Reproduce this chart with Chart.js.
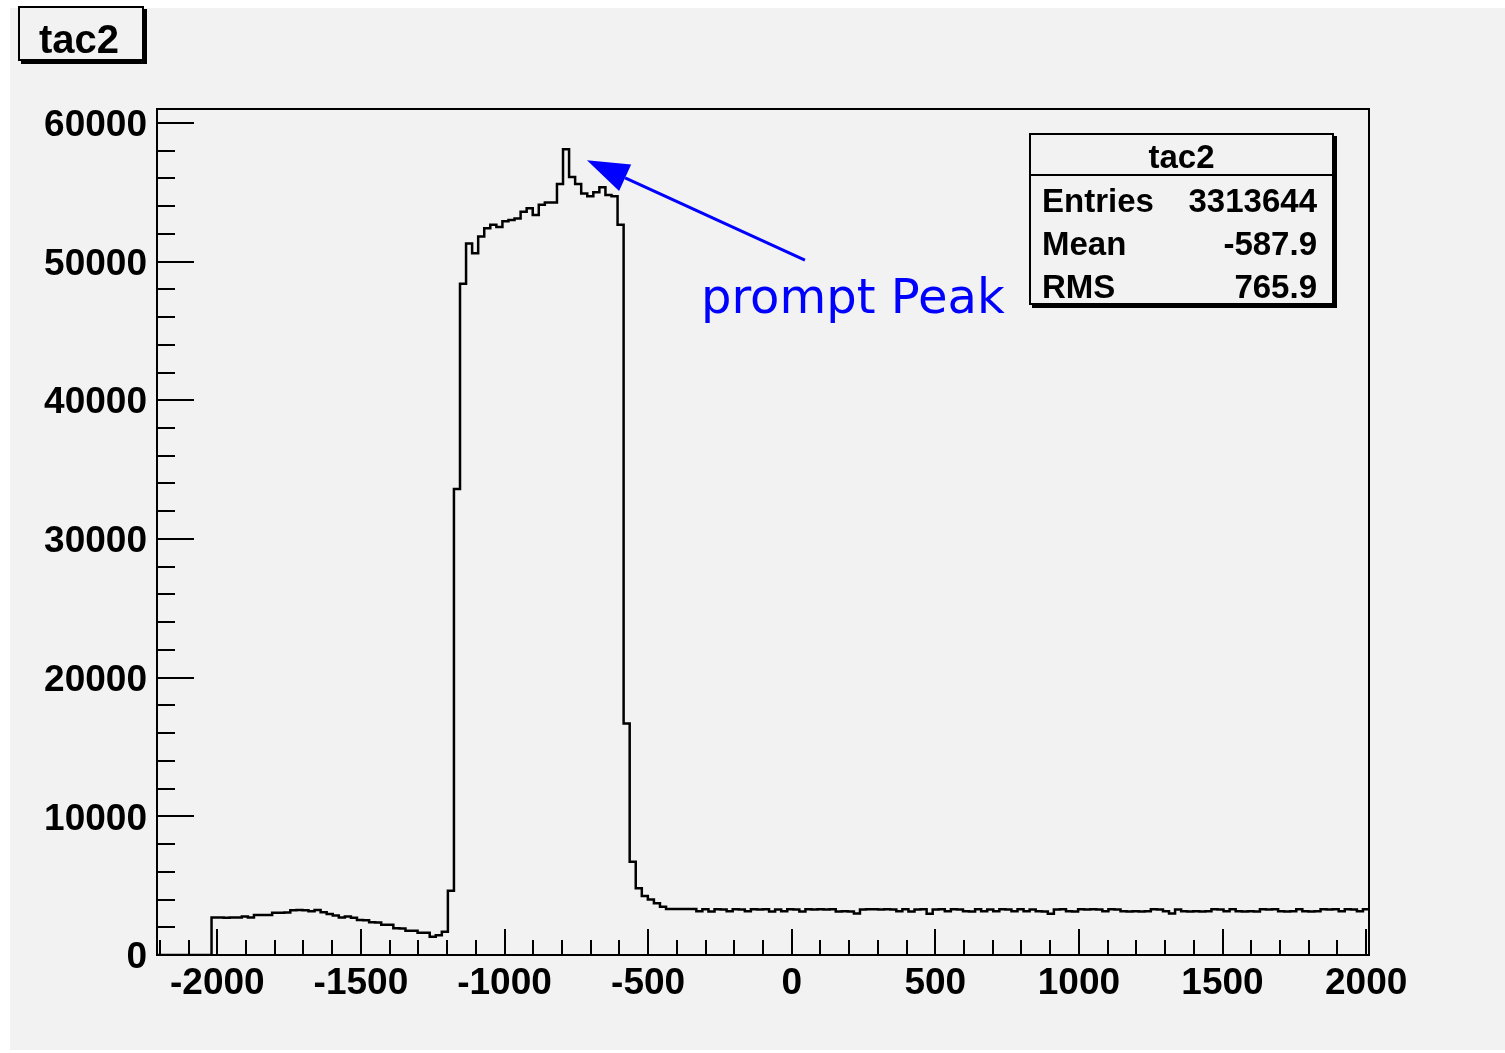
<!DOCTYPE html>
<html lang="en">
  <head>
    <meta charset="UTF-8" />
    <title>tac2</title>
    <script src="https://cdn.jsdelivr.net/npm/chart.js"></script>
    <style>
      body {
        margin: 0;
        background: #fff;
        font-family: "Liberation Sans", Arial, sans-serif;
      }
      .pad {
        position: absolute;
        left: 10px;
        top: 8px;
        width: 1495px;
        height: 1042px;
        background: #f2f2f2;
      }
      #hist {
        position: absolute;
        left: 0;
        top: 0;
      }
      .title-box {
        position: absolute;
        left: 18px;
        top: 6px;
        width: 126px;
        height: 55px;
        box-sizing: border-box;
        border: 2px solid #000;
        background: #f2f2f2;
        box-shadow: 3px 3px 0 #000;
        font-weight: bold;
        font-size: 40px;
        line-height: 62px;
        text-align: center;
        padding-right: 4px;
      }
      .stats {
        position: absolute;
        left: 1029px;
        top: 133px;
        width: 305px;
        height: 172px;
        box-sizing: border-box;
        border: 2px solid #000;
        background: #f2f2f2;
        box-shadow: 3px 3px 0 #000;
        font-weight: bold;
        font-size: 33px;
      }
      .stats .head {
        height: 39px;
        line-height: 44px;
        text-align: center;
        border-bottom: 2px solid #000;
      }
      .stats .row {
        display: flex;
        justify-content: space-between;
        height: 43px;
        line-height: 43px;
        padding: 0 15px 0 11px;
      }
      .stats .head + .row {
        margin-top: 3px;
      }
    </style>
  </head>
  <body>
    <div class="pad"></div>
    <canvas id="hist" width="1505" height="1053"></canvas>

    <div class="title-box">tac2</div>

    <!-- statistics box -->
    <div class="stats">
      <div class="head">tac2</div>
      <div class="row"><span>Entries</span><span>3313644</span></div>
      <div class="row"><span>Mean</span><span>-587.9</span></div>
      <div class="row"><span>RMS</span><span>765.9</span></div>
    </div>

    <script>
      // histogram binning
      const binLow = -2210;
      const binWidth = 21.1;
      const counts = [
        0, 0, 0, 0, 0, 0, 0, 0, 0, 2700,
        2700, 2690, 2710, 2700, 2780, 2710, 2880, 2880, 2890, 3050,
        3040, 3060, 3230, 3240, 3230, 3150, 3240, 3080, 2960, 2850,
        2700, 2780, 2690, 2520, 2510, 2360, 2350, 2190, 2180, 1920,
        1910, 1750, 1740, 1610, 1600, 1320, 1430, 1680, 4640, 33600,
        48400, 51300, 50600, 51800, 52400, 52650, 52500, 52900, 53000, 53100,
        53600, 53850, 53350, 54100, 54250, 54250, 55600, 58100, 56100, 55600,
        54900, 54700, 55000, 55350, 54800, 54700, 52650, 16700, 6730, 4810,
        4250, 4010, 3730, 3480, 3320, 3310, 3320, 3310, 3320, 3150,
        3290, 3140, 3290, 3280, 3150, 3290, 3280, 3150, 3290, 3280,
        3290, 3140, 3280, 3150, 3290, 3280, 3140, 3290, 3280, 3290,
        3280, 3290, 3140, 3150, 3140, 2990, 3280, 3290, 3290, 3280,
        3290, 3280, 3150, 3290, 3140, 3280, 3290, 2980, 3280, 3290,
        3150, 3290, 3280, 3150, 3140, 3290, 3150, 3280, 3150, 3290,
        3280, 3150, 3290, 3150, 3280, 3150, 3140, 2980, 3280, 3290,
        3150, 3140, 3290, 3280, 3290, 3280, 3150, 3290, 3280, 3150,
        3140, 3150, 3140, 3150, 3290, 3280, 3150, 2990, 3280, 3150,
        3140, 3150, 3140, 3150, 3290, 3280, 3150, 3290, 3150, 3140,
        3150, 3140, 3290, 3280, 3290, 3150, 3140, 3150, 3290, 3150,
        3140, 3150, 3290, 3280, 3290, 3150, 3290, 3280, 3150, 3290,
      ];

      // axis ranges and labelled ticks
      const xMin = -2210;
      const xMax = 2010;
      const yMin = 0;
      const yMax = 61000;
      const xTicks = [-2000, -1500, -1000, -500, 0, 500, 1000, 1500, 2000];
      const yTicks = [0, 10000, 20000, 30000, 40000, 50000, 60000];

      // "prompt Peak" annotation, in data units
      const peakLabel = "prompt Peak";
      const arrowTip = { x: -713, y: 57300 };
      const arrowTail = { x: 46, y: 50100 };
      const labelAt = { x: -316, y: 46300 };

      // each bin is drawn from its low edge to the next; the last edge closes the final bin
      const points = counts.map((c, i) => ({ x: binLow + i * binWidth, y: c }));
      points.push({ x: binLow + counts.length * binWidth, y: counts[counts.length - 1] });

      const axisFont = { family: "'Liberation Sans', Arial, sans-serif", size: 37, weight: "bold" };

      // frame, inward ticks and the arrow annotation
      const rootFrame = {
        id: "rootFrame",
        afterDatasetsDraw(chart) {
          const { ctx, chartArea: a, scales } = chart;
          const x = scales.x;
          const y = scales.y;
          ctx.save();
          ctx.strokeStyle = "#000";
          ctx.lineWidth = 2;
          ctx.strokeRect(a.left, a.top, a.right - a.left, a.bottom - a.top);

          ctx.beginPath();
          for (let v = Math.ceil(xMin / 100) * 100; v <= xMax; v += 100) {
            const px = Math.round(x.getPixelForValue(v));
            const len = v % 500 === 0 ? 26 : 15;
            ctx.moveTo(px, a.bottom);
            ctx.lineTo(px, a.bottom - len);
          }
          for (let v = yMin; v <= yMax; v += 2000) {
            const py = Math.round(y.getPixelForValue(v));
            const len = v % 10000 === 0 ? 37 : 18;
            ctx.moveTo(a.left, py);
            ctx.lineTo(a.left + len, py);
          }
          ctx.stroke();

          // arrow
          const tx = x.getPixelForValue(arrowTip.x);
          const ty = y.getPixelForValue(arrowTip.y);
          const sx = x.getPixelForValue(arrowTail.x);
          const sy = y.getPixelForValue(arrowTail.y);
          const d = Math.hypot(tx - sx, ty - sy);
          const ux = (tx - sx) / d;
          const uy = (ty - sy) / d;
          const headLen = 42;
          const headHalf = 14.5;
          const bx = tx - ux * headLen;
          const by = ty - uy * headLen;
          ctx.strokeStyle = "#0000ff";
          ctx.fillStyle = "#0000ff";
          ctx.lineWidth = 3;
          ctx.beginPath();
          ctx.moveTo(sx, sy);
          ctx.lineTo(bx, by);
          ctx.stroke();
          ctx.beginPath();
          ctx.moveTo(tx, ty);
          ctx.lineTo(bx - uy * headHalf, by + ux * headHalf);
          ctx.lineTo(bx + uy * headHalf, by - ux * headHalf);
          ctx.closePath();
          ctx.fill();

          ctx.font = "48px 'DejaVu Sans'";
          ctx.textBaseline = "alphabetic";
          ctx.textAlign = "left";
          ctx.fillText(peakLabel, x.getPixelForValue(labelAt.x), y.getPixelForValue(labelAt.y));
          ctx.restore();
        },
      };

      new Chart(document.getElementById("hist"), {
        type: "line",
        data: {
          datasets: [
            {
              data: points,
              borderColor: "#000",
              borderWidth: 2.5,
              stepped: "before",
              pointRadius: 0,
              fill: false,
            },
          ],
        },
        options: {
          responsive: false,
          animation: false,
          layout: { padding: { top: 109, right: 136, left: 0, bottom: 0 } },
          plugins: { legend: { display: false }, tooltip: { enabled: false } },
          scales: {
            x: {
              type: "linear",
              min: xMin,
              max: xMax,
              grid: { display: false, drawTicks: false },
              border: { display: false },
              afterBuildTicks: (s) => {
                s.ticks = xTicks.map((v) => ({ value: v }));
              },
              afterFit: (s) => {
                s.height = 98;
              },
              ticks: {
                padding: 7,
                color: "#000",
                font: axisFont,
                maxRotation: 0,
                autoSkip: false,
                callback: (v) => String(v),
              },
            },
            y: {
              min: yMin,
              max: yMax,
              grid: { display: false, drawTicks: false },
              border: { display: false },
              afterBuildTicks: (s) => {
                s.ticks = yTicks.map((v) => ({ value: v }));
              },
              afterFit: (s) => {
                s.width = 157;
              },
              ticks: {
                padding: 10,
                labelOffset: 3,
                color: "#000",
                font: axisFont,
                autoSkip: false,
                callback: (v) => String(v),
              },
            },
          },
        },
        plugins: [rootFrame],
      });
    </script>
  </body>
</html>
